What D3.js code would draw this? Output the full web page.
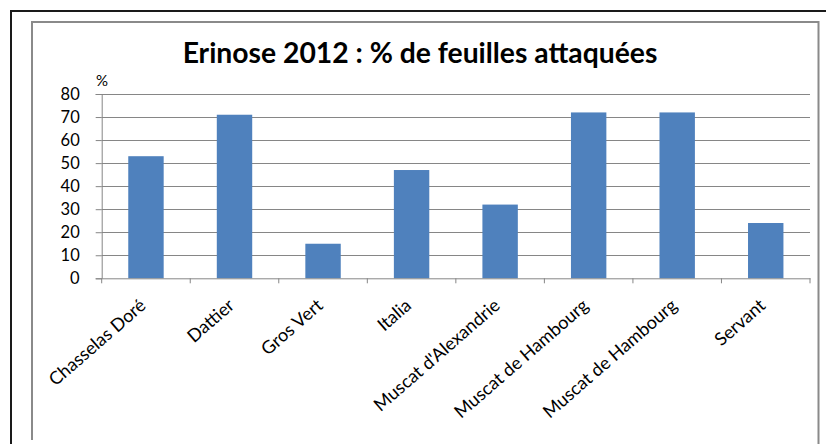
<!DOCTYPE html>
<html>
<head>
<meta charset="utf-8">
<script src="https://d3js.org/d3.v7.min.js"></script>
<style>
  body { margin: 0; background: #fff; }
  text { font-family: Lato, "Open Sans", sans-serif; fill: #000; }
</style>
</head>
<body>
<script>
  var categories = ["Chasselas Doré", "Dattier", "Gros Vert", "Italia",
                    "Muscat d'Alexandrie", "Muscat de Hambourg", "Muscat de Hambourg", "Servant"];
  var values = [53, 71, 15, 47, 32, 72, 72, 24];
  var yTicks = [0, 10, 20, 30, 40, 50, 60, 70, 80];
  var title = "Erinose 2012 : % de feuilles attaquées";
  var yUnit = "%";

  var W = 826, H = 444;
  var plot = {left: 101.7, right: 810, top: 94, bottom: 278.3};

  var svg = d3.select("body").append("svg")
    .attr("width", W).attr("height", H);

  // frames
  svg.append("path").attr("d", "M11,446 V11 H830")
    .attr("fill", "none").attr("stroke", "#1a1a1a").attr("stroke-width", 2);
  svg.append("path").attr("d", "M32,440 V22 H818.5 V446")
    .attr("fill", "none").attr("stroke", "#8a8a8a").attr("stroke-width", 2);

  var x = d3.scaleBand()
    .domain(d3.range(categories.length))
    .range([plot.left, plot.right])
    .paddingInner(0.6).paddingOuter(0.3);
  var xb = d3.scaleBand()
    .domain(d3.range(categories.length))
    .range([plot.left, plot.right]);
  var y = d3.scaleLinear().domain([0, 80]).range([plot.bottom, plot.top]);

  // gridlines
  svg.append("g").selectAll("line").data(yTicks.slice(1)).join("line")
    .attr("x1", plot.left).attr("x2", plot.right)
    .attr("y1", d => Math.round(y(d)) + 0.5).attr("y2", d => Math.round(y(d)) + 0.5)
    .attr("stroke", "#868686").attr("stroke-width", 1);

  // bars
  svg.append("g").selectAll("rect").data(values).join("rect")
    .attr("x", (d, i) => x(i))
    .attr("width", x.bandwidth())
    .attr("y", d => y(d))
    .attr("height", d => plot.bottom - y(d))
    .attr("fill", "#4f81bd");

  // y axis
  var yAxis = svg.append("g")
    .attr("transform", "translate(" + plot.left + ",0)")
    .call(d3.axisLeft(y).tickValues(yTicks).tickSize(6).tickPadding(16));
  yAxis.select(".domain").attr("stroke", "#868686");
  yAxis.selectAll(".tick line").attr("stroke", "#868686");
  yAxis.selectAll(".tick text").attr("font-size", 16.5).attr("fill", "#000")
    .style("font-family", "Lato, sans-serif");

  // x axis
  var xAxis = svg.append("g")
    .attr("transform", "translate(0," + plot.bottom + ")")
    .call(d3.axisBottom(xb).tickSize(0).tickFormat(""));
  xAxis.select(".domain").attr("stroke", "#868686");
  svg.append("g").selectAll("line").data(d3.range(categories.length + 1)).join("line")
    .attr("x1", i => i < categories.length ? xb(i) : plot.right)
    .attr("x2", i => i < categories.length ? xb(i) : plot.right)
    .attr("y1", plot.bottom).attr("y2", plot.bottom + 5)
    .attr("stroke", "#868686");

  // x labels, rotated
  svg.append("g").selectAll("text").data(categories).join("text")
    .attr("transform", (d, i) => "translate(" + (xb(i) + xb.bandwidth() / 2 + 1) + "," + (plot.bottom + 29) + ") rotate(-41)")
    .attr("text-anchor", "end")
    .attr("font-size", 18)
    .text(d => d);

  // title
  var t = svg.append("text")
    .attr("x", 420).attr("y", 63)
    .attr("text-anchor", "middle")
    .attr("font-weight", "bold")
    .attr("font-size", 26)
    .text(title);
  var tw = t.node().getComputedTextLength();
  t.attr("font-size", 26 * 475 / tw);

  svg.append("text")
    .attr("x", 96).attr("y", 86)
    .attr("font-size", 15)
    .text(yUnit);
</script>
</body>
</html>
